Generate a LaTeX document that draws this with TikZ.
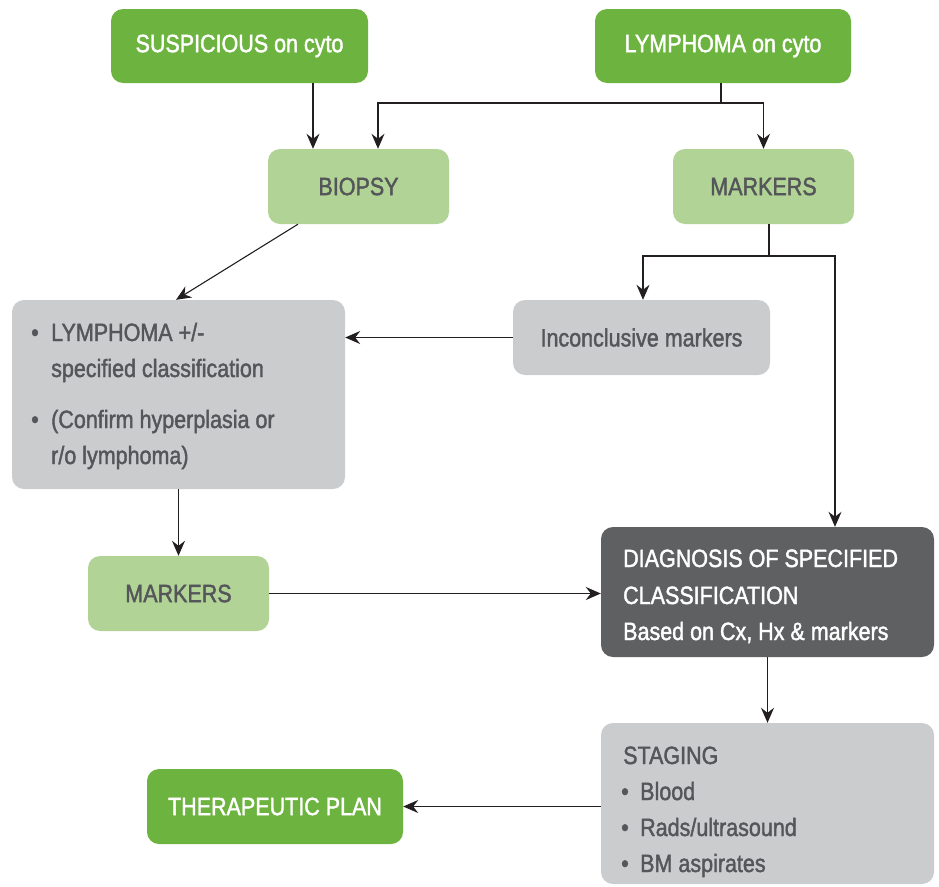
\documentclass[tikz,border=0pt]{standalone}
\usepackage{fontspec}
\setmainfont{Liberation Sans}[FakeStretch=0.86,FakeBold=1.6]
\usetikzlibrary{arrows.meta,calc}
\definecolor{dgreen}{HTML}{6DB33F}
\definecolor{lgreen}{HTML}{B1D396}
\definecolor{lgrey}{HTML}{CBCCCE}
\definecolor{dgrey}{HTML}{5F6062}
\definecolor{txtgrey}{HTML}{555659}
\definecolor{linec}{HTML}{231F20}
\tikzset{
  box/.style={rounded corners=12pt, inner sep=0pt, font=\fontsize{25}{30}\selectfont},
  greenbox/.style={box, fill=dgreen, text=white},
  lightbox/.style={box, fill=lgreen, text=txtgrey},
  greybox/.style={box, fill=lgrey, text=txtgrey},
  darkbox/.style={box, fill=dgrey, text=white},
  line/.style={draw=linec, line width=1.1pt},
  arr/.style={line, -{Stealth[length=15pt,width=13pt,inset=5pt]}},
  ltxt/.style={anchor=base west, inner sep=0pt, font=\fontsize{25}{30}\selectfont},
  bul/.style={anchor=base, inner sep=0pt, font=\fontsize{25}{30}\selectfont},
}
\begin{document}
\begin{tikzpicture}[x=1pt,y=-1pt]
\useasboundingbox (0,0) rectangle (939,886);
% boxes
\node[greenbox, minimum width=257pt, minimum height=74pt] (susp) at (239.5,46) {SUSPICIOUS on cyto};
\node[greenbox, minimum width=256pt, minimum height=74pt] (lymc) at (723,46) {LYMPHOMA on cyto};
\node[lightbox, minimum width=181pt, minimum height=75pt] (biopsy) at (358.5,186.5) {BIOPSY};
\node[lightbox, minimum width=181pt, minimum height=75pt] (mark1) at (763.5,186.5) {MARKERS};
\node[greybox, minimum width=333pt, minimum height=189pt] (lbox) at (178.5,394.5) {};
\node[greybox, minimum width=257pt, minimum height=75pt] (incon) at (641.5,337.5) {Inconclusive markers};
\node[lightbox, minimum width=181pt, minimum height=75pt] (mark2) at (178.5,593.5) {MARKERS};
\node[darkbox, minimum width=333pt, minimum height=130pt] (diag) at (767.5,592) {};
\node[greybox, minimum width=333pt, minimum height=161pt] (stag) at (767.5,803.5) {};
\node[greenbox, minimum width=256pt, minimum height=75pt] (ther) at (275,806.5) {THERAPEUTIC PLAN};
% left box text
\node[bul, text=txtgrey] (b1) at (35,341) {•};
\node[ltxt, text=txtgrey] (l1) at (51,341) {LYMPHOMA +/-};
\node[ltxt, text=txtgrey] (l2) at (51,377) {specified classification};
\node[bul, text=txtgrey] (b2) at (35,428) {•};
\node[ltxt, text=txtgrey] (l3) at (51,428) {(Confirm hyperplasia or};
\node[ltxt, text=txtgrey] (l4) at (51,464) {r/o lymphoma)};
% diagnosis text
\node[ltxt, text=white] (d1) at (623,567) {DIAGNOSIS OF SPECIFIED};
\node[ltxt, text=white] (d2) at (623,604) {CLASSIFICATION};
\node[ltxt, text=white] (d3) at (623,640) {Based on Cx, Hx \& markers};
% staging text
\node[ltxt, text=txtgrey] (s0) at (623,764) {STAGING};
\node[bul, text=txtgrey] (sb1) at (625,800) {•};
\node[ltxt, text=txtgrey] (s1) at (640,800) {Blood};
\node[bul, text=txtgrey] (sb2) at (625,836) {•};
\node[ltxt, text=txtgrey] (s2) at (640,836) {Rads/ultrasound};
\node[bul, text=txtgrey] (sb3) at (625,872) {•};
\node[ltxt, text=txtgrey] (s3) at (640,872) {BM aspirates};
% connectors
\coordinate (c1) at (313,0);
\draw[arr] (c1 |- susp.south) -- (c1 |- biopsy.north);
\coordinate (j1) at (721,103);
\draw[line] (lymc.south -| j1) -- (j1);
\draw[arr] (j1) -| ([xshift=19.5pt]biopsy.north);
\draw[arr] (j1) -| (mark1.north);
\draw[arr] ([xshift=-60.5pt]biopsy.south) -- ([xshift=-2.5pt]lbox.north);
\coordinate (j2) at (769,256);
\draw[line] (mark1.south -| j2) -- (j2);
\draw[arr] (j2) -| ([xshift=1.5pt]incon.north);
\draw[arr] (j2) -| ([xshift=67.5pt]diag.north);
\draw[arr] (incon.west) -- (incon.west -| lbox.east);
\draw[arr] (lbox.south) -- (mark2.north);
\draw[arr] (mark2.east) -- (mark2.east -| diag.west);
\draw[arr] (diag.south) -- (stag.north);
\draw[arr] (ther.east -| stag.west) -- (ther.east);
\end{tikzpicture}
\end{document}
